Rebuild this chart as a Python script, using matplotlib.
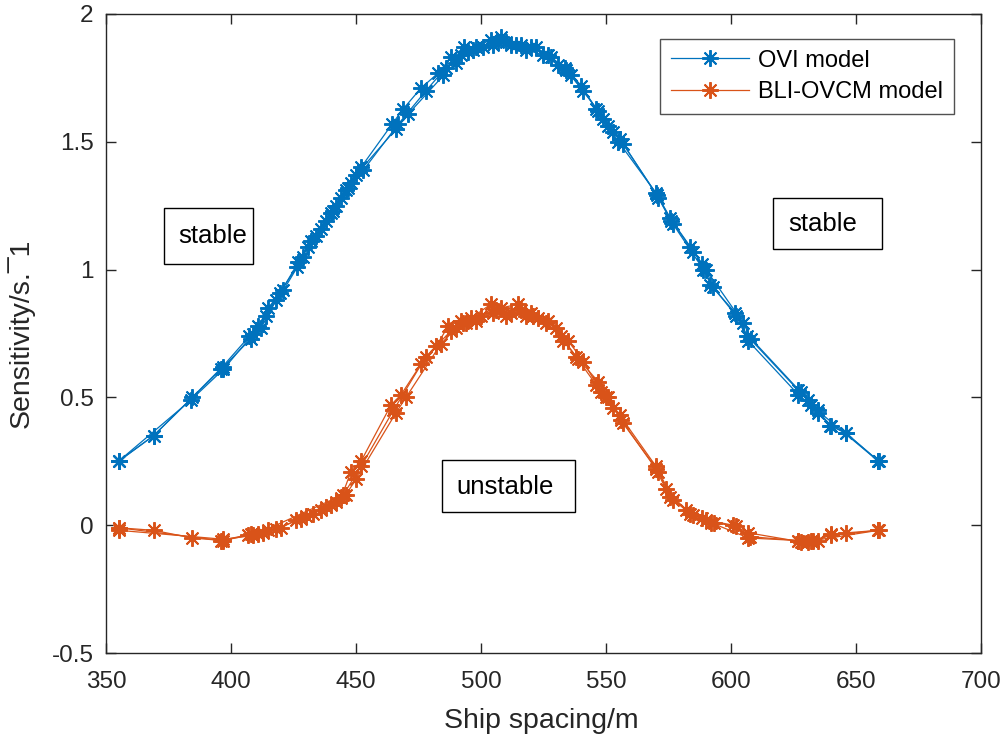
import matplotlib
matplotlib.use("Agg")
import matplotlib.pyplot as plt
from matplotlib.patches import Rectangle

plt.rcParams['font.family'] = ['Liberation Sans', 'DejaVu Sans']

# ---- data ----
ovi_x1 = [355, 369, 384.5, 396.6, 407.4, 411, 415, 419.5, 426.3, 430.7, 436, 440, 444, 448, 452, 464.5, 469, 476, 483, 488, 493.4, 498, 504, 508, 514, 522, 528, 533.5, 540, 546, 551, 555.6, 570.5, 575.7, 583.7, 588.6, 591.8, 601.8, 606.6, 626.7, 630.7, 634.7, 639.6, 646, 659.2]
ovi_y1 = [0.25, 0.35, 0.50, 0.62, 0.74, 0.78, 0.85, 0.91, 1.01, 1.09, 1.16, 1.22, 1.28, 1.34, 1.40, 1.57, 1.63, 1.71, 1.77, 1.83, 1.87, 1.87, 1.90, 1.91, 1.88, 1.87, 1.83, 1.79, 1.72, 1.63, 1.56, 1.51, 1.29, 1.20, 1.09, 1.02, 0.94, 0.83, 0.74, 0.53, 0.49, 0.45, 0.39, 0.36, 0.25]
ovi_x2 = [355, 369, 396, 408, 412, 418, 427, 432, 438, 442, 446, 450, 466, 471, 485, 490, 495, 501, 507, 512, 518, 525, 531, 536, 547, 553, 557, 571, 576, 589, 593, 602, 607, 627, 632, 659]
ovi_y2 = [0.25, 0.35, 0.61, 0.73, 0.77, 0.88, 1.03, 1.11, 1.19, 1.25, 1.31, 1.37, 1.55, 1.61, 1.76, 1.81, 1.85, 1.87, 1.89, 1.88, 1.86, 1.84, 1.80, 1.76, 1.62, 1.54, 1.49, 1.28, 1.19, 1.00, 0.93, 0.82, 0.72, 0.51, 0.47, 0.25]
ovi_x3 = [355, 384, 397, 409, 414, 421, 429, 434, 441, 447, 453, 467, 478, 486, 492, 497, 505, 510, 516, 520, 527, 534, 541, 549, 555, 570, 577, 585, 590, 605, 608, 628, 635, 640, 646, 659]
ovi_y3 = [0.25, 0.49, 0.61, 0.75, 0.82, 0.92, 1.05, 1.13, 1.23, 1.32, 1.39, 1.57, 1.70, 1.79, 1.84, 1.86, 1.88, 1.89, 1.88, 1.87, 1.84, 1.78, 1.70, 1.59, 1.50, 1.30, 1.18, 1.07, 1.00, 0.79, 0.73, 0.52, 0.44, 0.39, 0.36, 0.25]

bli_x1 = [355, 369, 384.5, 396.6, 407, 411, 415, 420, 426, 430, 436, 440, 444, 448, 452, 464, 468, 476, 482, 487, 492, 496, 504, 508, 515, 520, 526, 532, 538, 546, 550, 555.5, 570, 575.7, 583.7, 588.6, 593.4, 602.2, 607.8, 626.7, 630.7, 634.7, 640, 646, 659.2]
bli_y1 = [-0.01, -0.02, -0.05, -0.06, -0.04, -0.035, -0.02, -0.01, 0.02, 0.035, 0.06, 0.08, 0.105, 0.21, 0.25, 0.47, 0.51, 0.63, 0.70, 0.78, 0.80, 0.81, 0.865, 0.85, 0.865, 0.83, 0.79, 0.74, 0.66, 0.55, 0.50, 0.43, 0.23, 0.11, 0.045, 0.03, 0.01, -0.005, -0.045, -0.06, -0.065, -0.06, -0.035, -0.03, -0.02]
bli_x2 = [355, 396, 408, 413, 418, 428, 433, 438, 442, 446, 450, 466, 470, 484, 490, 494, 500, 506, 512, 518, 523, 530, 535, 541, 548, 553, 556, 571, 577, 585, 590, 601, 607, 628, 633, 659]
bli_y2 = [-0.01, -0.06, -0.035, -0.03, -0.015, 0.025, 0.045, 0.07, 0.09, 0.12, 0.18, 0.44, 0.50, 0.71, 0.77, 0.79, 0.82, 0.84, 0.83, 0.82, 0.81, 0.77, 0.72, 0.64, 0.52, 0.46, 0.41, 0.21, 0.10, 0.04, 0.02, 0.00, -0.03, -0.065, -0.06, -0.02]
bli_x3 = [355, 397, 409, 445, 452, 465, 478, 488, 493, 498, 505, 510, 516, 521, 527, 533, 539, 547, 551, 557, 570, 574, 582, 592, 607, 627, 632, 640, 659]
bli_y3 = [-0.02, -0.055, -0.04, 0.12, 0.23, 0.45, 0.66, 0.76, 0.79, 0.80, 0.83, 0.82, 0.84, 0.82, 0.80, 0.72, 0.65, 0.56, 0.50, 0.40, 0.22, 0.14, 0.06, 0.01, -0.05, -0.06, -0.06, -0.04, -0.02]

ovi_runs = [(ovi_x1, ovi_y1), (ovi_x2, ovi_y2), (ovi_x3, ovi_y3)]
bli_runs = [(bli_x1, bli_y1), (bli_x2, bli_y2), (bli_x3, bli_y3)]
series_labels = ["OVI model", "BLI-OVCM model"]
x_ticks = [350, 400, 450, 500, 550, 600, 650, 700]
y_ticks = [-0.5, 0, 0.5, 1, 1.5, 2]
y_tick_labels = ["-0.5", "0", "0.5", "1", "1.5", "2"]

BLUE = "#0072BD"
ORANGE = "#D95319"
AX_COLOR = "#262626"

fig = plt.figure(figsize=(10.03, 7.40), dpi=100)
ax = fig.add_axes([106 / 1003, (740 - 653) / 740, 875 / 1003, (653 - 14) / 740])

mk = (8, 2, 0)
for color, runs, lab in [(BLUE, ovi_runs, series_labels[0]), (ORANGE, bli_runs, series_labels[1])]:
    for i, (xs, ys) in enumerate(runs):
        ax.plot(xs, ys, color=color, lw=0.9, marker=mk, ms=12, mew=1.4,
                label=lab if i == 0 else None)

ax.set_xlim(350, 700)
ax.set_ylim(-0.5, 2)
ax.set_xticks(x_ticks)
ax.set_yticks(y_ticks)
ax.set_yticklabels(y_tick_labels)
ax.tick_params(direction='in', length=7, width=1.0, top=True, right=True,
               labelsize=17.5, colors=AX_COLOR)
ax.tick_params(axis='x', pad=13)
ax.tick_params(axis='y', pad=9)
for s in ax.spines.values():
    s.set_color(AX_COLOR)
    s.set_linewidth(1.0)

ax.set_xlabel("Ship spacing/m", fontsize=20.5, color=AX_COLOR)
ax.set_ylabel("Sensitivity/s.\u00af1", fontsize=20.5, color=AX_COLOR)
ax.xaxis.set_label_coords(0.498, -0.086)
ax.yaxis.set_label_coords(-0.081, 0.5)

leg = ax.legend(loc='upper right', bbox_to_anchor=(0.969, 0.961), borderaxespad=0,
                fontsize=17, frameon=True, fancybox=False, handlelength=3.3,
                borderpad=0.45, labelspacing=0.4, handletextpad=0.4)
leg.get_frame().set_edgecolor(AX_COLOR)
leg.get_frame().set_linewidth(1.0)

# annotation boxes (data coordinates)
boxes = [
    ("stable", 373.2, 1.022, 408.8, 1.241, 378.8, 1.131),
    ("stable", 616.8, 1.080, 660.4, 1.280, 623.0, 1.178),
    ("unstable", 484.4, 0.051, 537.6, 0.254, 490.0, 0.150),
]
for txt, x0, y0, x1, y1, tx, ty in boxes:
    ax.add_patch(Rectangle((x0, y0), x1 - x0, y1 - y0, fill=False,
                           edgecolor='black', lw=1.0, zorder=5))
    ax.text(tx, ty, txt, fontsize=18.5, ha='left', va='center', color='black', zorder=6)

fig.savefig("out.png", dpi=100)
